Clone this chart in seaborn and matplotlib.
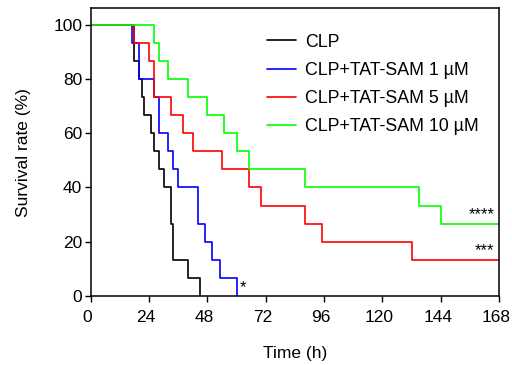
import numpy as np
import pandas as pd
import matplotlib.pyplot as plt
import matplotlib.transforms as mtransforms
import seaborn as sns

# Groups (15 animals each); hours of death, survivors not listed
groups = ['CLP', 'CLP+TAT-SAM 1 µM', 'CLP+TAT-SAM 5 µM', 'CLP+TAT-SAM 10 µM']
n_animals = 15
end_time = 168
death_clp = [18, 18, 20, 21, 22, 25, 26, 28, 30, 33, 33, 34, 34, 40, 45]
death_1um = [17, 20, 20, 26, 28, 28, 32, 34, 36, 44, 44, 47, 50, 53, 60]
death_5um = [18, 24, 26, 26, 33, 38, 42, 54, 65, 70, 88, 95, 132]
death_10um = [26, 28, 32, 40, 48, 55, 60, 65, 88, 135, 144]
deaths = [death_clp, death_1um, death_5um, death_10um]
significance = ['', '*', '***', '****']
colors = ['black', '#0000ff', '#ff0000', '#00ff00']

# Build Kaplan-Meier style step curves (no censoring before the end)
rows = []
for name, d in zip(groups, deaths):
    times, counts = np.unique(d, return_counts=True)
    alive = n_animals
    rows.append((name, 0, 100.0))
    for t, c in zip(times, counts):
        alive -= c
        rows.append((name, t, 100.0 * alive / n_animals))
    if alive > 0:
        rows.append((name, end_time, 100.0 * alive / n_animals))
df = pd.DataFrame(rows, columns=['Group', 'Time', 'Survival'])

sns.set_style('ticks')
plt.rcParams['font.family'] = ['Liberation Sans', 'DejaVu Sans']
plt.rcParams['text.color'] = 'black'
plt.rcParams['axes.labelcolor'] = 'black'
plt.rcParams['xtick.color'] = 'black'
plt.rcParams['ytick.color'] = 'black'

fig = plt.figure(figsize=(5.12, 3.65), dpi=100)
ax = fig.add_axes([0.177, 0.189, 0.798, 0.788])

sns.lineplot(data=df, x='Time', y='Survival', hue='Group', hue_order=groups,
             palette=colors, estimator=None, sort=False, drawstyle='steps-post',
             linewidth=1.2, ax=ax)

# Significance marks at the end of each curve
for name, sig in zip(groups, significance):
    if not sig:
        continue
    sub = df[df['Group'] == name]
    last = sub.iloc[-1]
    if last['Survival'] == 0:
        ax.text(last['Time'] + 1.2, 0.5, sig, fontsize=12, color='black',
                ha='left', va='bottom')
    else:
        ax.text(166, last['Survival'] + 0.5, sig, fontsize=12, color='black',
                ha='right', va='bottom')

ax.set_xlim(0, 168)
ax.set_ylim(0, 106)
ax.set_xticks(np.arange(0, 169, 24))
ax.set_yticks(np.arange(0, 101, 20))
ax.tick_params(axis='both', labelsize=12.5, length=4, width=1, color='black',
               labelcolor='black')
ax.tick_params(axis='x', pad=6)
ax.tick_params(axis='y', pad=2)
# x tick labels sit slightly left of their ticks in the original
shift = mtransforms.ScaledTranslation(-3 / 100, 0, fig.dpi_scale_trans)
for lbl in ax.get_xticklabels():
    lbl.set_transform(lbl.get_transform() + shift)
for s in ax.spines.values():
    s.set_linewidth(1.1)
    s.set_color('black')
ax.set_xlabel('Time (h)', fontsize=12.5, labelpad=15)
ax.set_ylabel('Survival rate (%)', fontsize=12.5, labelpad=16)

handles, labels = ax.get_legend_handles_labels()
ax.legend(handles, labels, loc='upper left', bbox_to_anchor=(0.432, 0.912),
          frameon=False, fontsize=12.8, handlelength=1.6, handletextpad=0.55,
          labelspacing=0.62, borderpad=0, borderaxespad=0)

fig.savefig('out.png', dpi=100)
plt.close(fig)
